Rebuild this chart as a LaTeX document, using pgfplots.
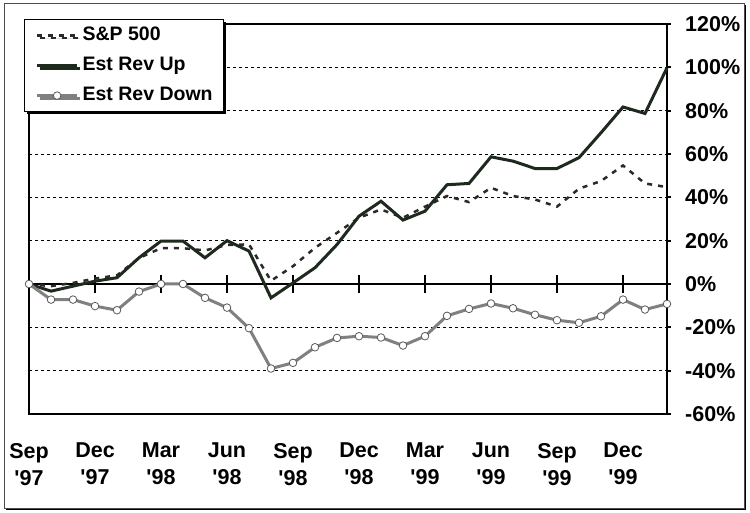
\documentclass[border=0pt]{standalone}
\usepackage{pgfplots}
\pgfplotsset{compat=1.18}
\usepackage{fontspec}
\setmainfont{Liberation Sans}
\usetikzlibrary{shadows}
\definecolor{upcol}{HTML}{1E2A1E}
\definecolor{downcol}{HTML}{808080}
\definecolor{spcol}{HTML}{2A2A2A}
\pgfplotstableread{
m sp up down
0 0 0 0
1 -1 -3.3 -7.2
2 0.5 -1.0 -7.2
3 2.5 1.3 -10.2
4 4 2.9 -12.1
5 12 12.1 -3.5
6 16.5 19.8 0
7 16.5 19.8 0
8 15.5 12.1 -6.4
9 18 20 -10.9
10 18.3 15.2 -20.4
11 1.5 -6.4 -39
12 8.2 0.5 -36.4
13 16.7 7.5 -29.2
14 23.6 18.2 -24.9
15 30.6 31.3 -24.1
16 34.4 38.2 -24.7
17 30.6 29.5 -28.4
18 35.7 33.6 -24.1
19 40.6 45.8 -14.7
20 37.8 46.4 -11.5
21 44.4 58.7 -9.0
22 40.6 56.7 -11.2
23 39 53.3 -14.2
24 35.7 53.3 -16.7
25 44 58.3 -17.9
26 47.5 69.8 -14.9
27 54.7 81.7 -7.2
28 46.4 78.7 -11.8
29 44.7 99.8 -9.2
}\datatable
\newcommand{\q}{\textquotesingle}
\begin{document}
\begin{tikzpicture}
\path[use as bounding box] (-29pt,-99pt) rectangle (721pt,414pt);
\fill[black] (-23pt,-96pt) rectangle (717pt,409pt);
\draw[fill=white, line width=0.8pt, draw=black!70] (-25pt,-94pt) rectangle (715pt,411pt);
\begin{axis}[
  at={(0pt,0pt)}, anchor=south west,
  scale only axis, width=638pt, height=390pt,
  xmin=0, xmax=29, ymin=-60, ymax=120,
  axis line style={line width=2pt},
  ytick={-60,-40,...,120},
  yticklabels={-60\%,-40\%,-20\%,0\%,20\%,40\%,60\%,80\%,100\%,120\%},
  ytick pos=right, yticklabel pos=right,
  tick align=outside, major tick length=4pt,
  y tick style={line width=2pt, black},
  x tick style={draw=none},
  ymajorgrids,
  grid style={line width=0.6pt, black, dash pattern=on 3pt off 3pt},
  xtick={0,3,...,27}, xtick pos=bottom,
  xticklabels={Sep\\\q97,Dec\\\q97,Mar\\\q98,Jun\\\q98,Sep\\\q98,Dec\\\q98,Mar\\\q99,Jun\\\q99,Sep\\\q99,Dec\\\q99},
  tick label style={font=\fontsize{21.5}{27}\selectfont\bfseries},
  xticklabel style={align=center, inner sep=0pt, anchor=north, yshift=-25pt},
  yticklabel style={anchor=west, inner sep=0pt, xshift=14pt},
]
\end{axis}
\begin{axis}[
  at={(0pt,0pt)}, anchor=south west,
  scale only axis, width=638pt, height=390pt,
  xmin=0, xmax=29, ymin=-60, ymax=120,
  axis x line=middle, axis y line=none,
  x axis line style={-, line width=2pt, black},
  xtick={0,3,...,27}, xticklabels={},
  ytick=\empty,
  tick align=center, major tick length=18pt,
  x tick style={line width=2pt, black},
  clip=false,
  legend image code/.code={\draw[mark repeat=2,mark phase=2,#1] plot coordinates {(0pt,0pt) (20pt,0pt) (40pt,0pt)};},
  legend style={at={(-0.0078,1.0128)}, anchor=north west,
    draw=black, line width=1.2pt, fill=white,
    drop shadow={shadow xshift=2.5pt, shadow yshift=-2.5pt, fill=black, opacity=1},
    inner xsep=11pt, inner ysep=7pt, row sep=12pt, column sep=4pt,
    nodes={inner sep=0pt, text height=14pt, text depth=4pt},
    font=\fontsize{19.5}{23}\selectfont\bfseries},
  legend cell align=left,
]
\addplot[spcol, line width=2.5pt, dash pattern=on 5pt off 6pt] table[x=m, y=sp] {\datatable};
\addlegendentry{S\&P 500}
\addplot[upcol, line width=3pt] table[x=m, y=up] {\datatable};
\addlegendentry{Est Rev Up}
\addplot[downcol, line width=3pt, mark=*, mark size=3.8pt, mark options={fill=white, draw=black!65, line width=0.8pt, solid}] table[x=m, y=down] {\datatable};
\addlegendentry{Est Rev Down}
\end{axis}
\end{tikzpicture}
\end{document}
